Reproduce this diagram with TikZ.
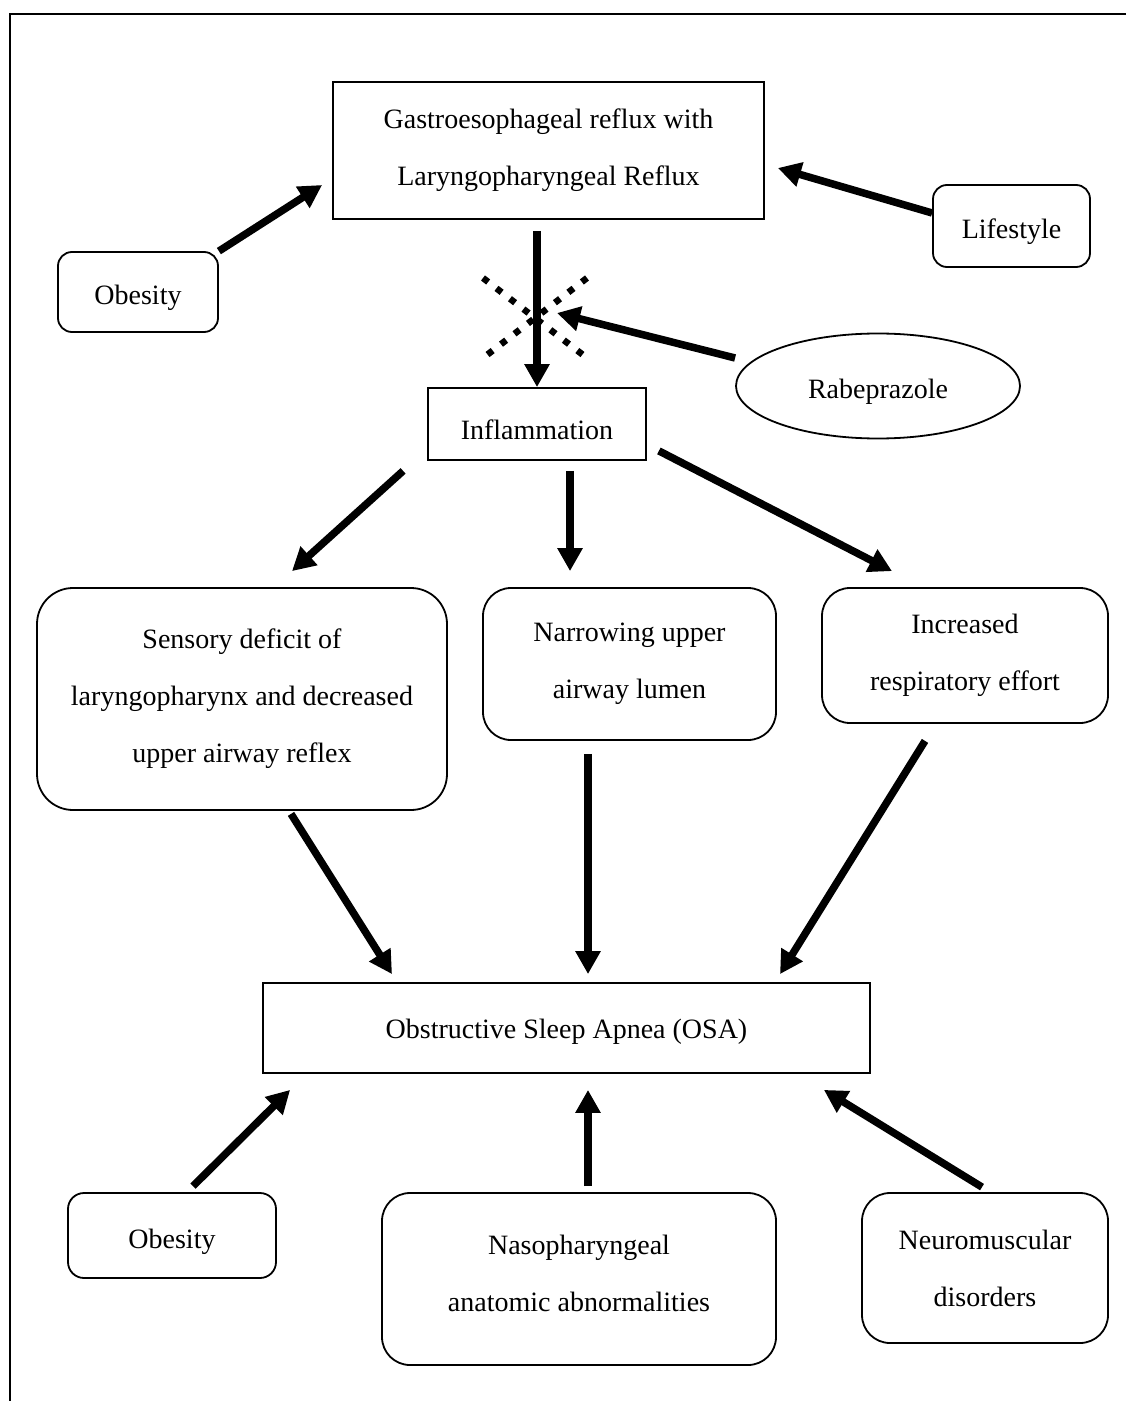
\documentclass[tikz,border=0pt]{standalone}
\usepackage{fontspec}
\setmainfont{Liberation Serif}
\usetikzlibrary{shapes.geometric,arrows.meta,calc}

\begin{document}
\begin{tikzpicture}[x=0.5pt,y=-0.5pt,
    box/.style={draw, line width=0.9pt, align=center, inner sep=0pt,
      font=\fontsize{14}{28.5}\selectfont},
    rbox/.style={box, rounded corners=#1},
    rbox/.default=14pt,
    down/.style={execute at begin node={\rule{0pt}{#1}}},
    down/.default=16pt,
    flow/.style={line width=3.75pt, -{Triangle[length=11.5pt,width=12pt]}},
    blocked/.style={line width=3.25pt, dash pattern=on 3.25pt off 5.25pt}]
  \useasboundingbox (0,0) rectangle (1126,1401);
  \draw[line width=1pt] (1126,14) -- (10,14) -- (10,1401);

  % upper part
  \node[box, down, minimum width=215.5pt, minimum height=68.5pt] (gerd) at (548.5,150.5)
    {Gastroesophageal reflux with\\Laryngopharyngeal Reflux};
  \node[rbox=7pt, down, minimum width=78.5pt, minimum height=41pt] (lifestyle) at (1011.5,226) {Lifestyle};
  \node[rbox=7pt, down, minimum width=80pt, minimum height=40pt] (obesityTop) at (138,292) {Obesity};
  \node[box, down=15pt, ellipse, minimum width=142pt, minimum height=52.5pt] (rabe) at (878,386) {Rabeprazole};
  \node[box, down, minimum width=109pt, minimum height=36pt] (inflam) at (537,424) {Inflammation};

  % middle row
  \node[rbox=18pt, down=13pt, minimum width=205pt, minimum height=111pt] (sensory) at (242,699)
    {Sensory deficit of\\laryngopharynx and decreased\\upper airway reflex};
  \node[rbox, down, minimum width=146.5pt, minimum height=76pt] (narrow) at (629.5,664)
    {Narrowing upper\\airway lumen};
  \node[rbox, down=20pt, minimum width=143pt, minimum height=67.5pt] (incr) at (965,655.5)
    {Increased\\respiratory effort};

  \node[box, down=13pt, minimum width=303.5pt, minimum height=45pt] (osa) at (566.5,1028)
    {Obstructive Sleep Apnea (OSA)};

  % lower row
  \node[rbox=8pt, down, minimum width=104pt, minimum height=42.5pt] (obesityBot) at (172,1235.5) {Obesity};
  \node[rbox, execute at end node={\rule[-6pt]{0pt}{0pt}}, minimum width=197pt, minimum height=86pt] (naso) at (579,1279)
    {Nasopharyngeal\\anatomic abnormalities};
  \node[rbox, down=13pt, minimum width=123pt, minimum height=75pt] (neuro) at (985,1268)
    {Neuromuscular\\disorders};

  \draw[flow] (obesityTop.north east) -- ([shift={(-10,34.5)}]gerd.west);
  \draw[flow] ([shift={(0,-13)}]lifestyle.west) -- ([shift={(13,17.5)}]gerd.east);
  \draw[flow] ([shift={(-11.5,11)}]gerd.south) -- (inflam.north);

  % blocked by the drug
  \coordinate (block) at (535,318);
  \draw[blocked] ([shift={(-52,-40)}]block) -- ([shift={(52,40)}]block);
  \draw[blocked] ([shift={(52,-40)}]block) -- ([shift={(-52,40)}]block);
  \draw[flow] ([shift={(0,-28)}]rabe.west) -- ([shift={(22,-5)}]block);

  \draw[flow] ([shift={(-24,10)}]inflam.south west) -- ([shift={(50,-16)}]sensory.north);
  \draw[flow] ([shift={(33,10)}]inflam.south) -- ([shift={(-59.5,-16)}]narrow.north);
  \draw[flow] ([shift={(12,-10)}]inflam.south east) -- ([shift={(-73,-16)}]incr.north);

  \draw[flow] ([shift={(49,3)}]sensory.south) -- ([shift={(-174.5,-8)}]osa.north);
  \draw[flow] ([shift={(-41.5,13)}]narrow.south) -- ([shift={(21.5,-8)}]osa.north);
  \draw[flow] ([shift={(-40,17)}]incr.south) -- ([shift={(213.5,-8)}]osa.north);

  \draw[flow] ([shift={(21,-6)}]obesityBot.north) -- ([shift={(28,16)}]osa.south west);
  \draw[flow] ([shift={(9,-6)}]naso.north) -- ([shift={(21.5,16)}]osa.south);
  \draw[flow] ([shift={(-3,-5)}]neuro.north) -- ([shift={(-47,16)}]osa.south east);
\end{tikzpicture}
\end{document}
